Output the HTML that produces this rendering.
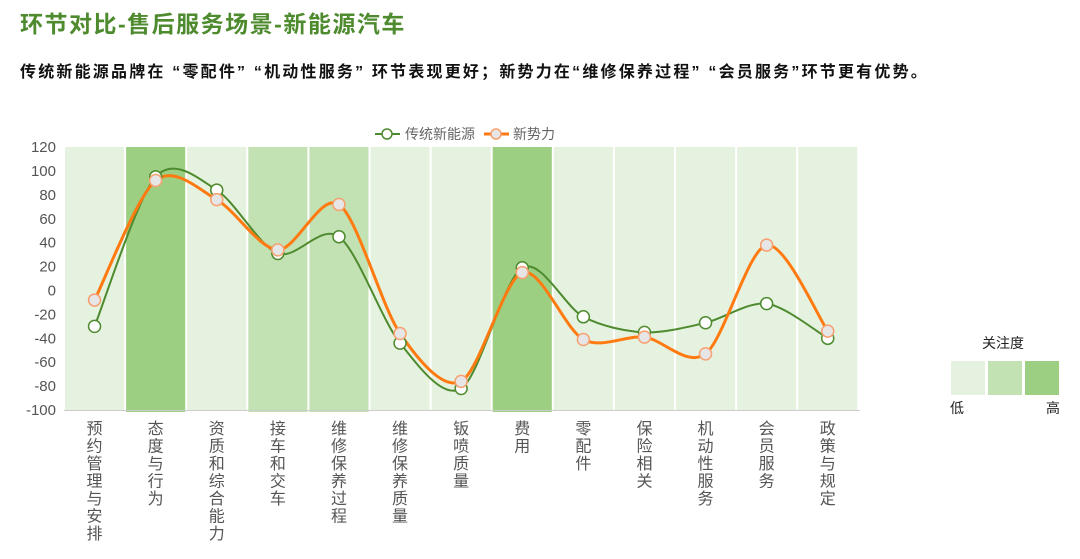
<!DOCTYPE html><html><head><meta charset="utf-8"><style>
body{margin:0;width:1080px;height:559px;background:#fff;font-family:"Liberation Sans","Noto Sans CJK SC",sans-serif;overflow:hidden;position:relative}
.t{position:absolute;left:20px;top:5px;font-size:23px;font-weight:bold;color:#4e8a2e;letter-spacing:1.5px}
.s{position:absolute;left:20px;top:58px;font-size:16px;font-weight:bold;color:#111;letter-spacing:2.2px;white-space:nowrap}
</style></head><body>
<div class="t">环节对比-售后服务场景-新能源汽车</div>
<div class="s">传统新能源品牌在 “零配件” “机动性服务” 环节表现更好；新势力在“维修保养过程” “会员服务”环节更有优势。</div>
<svg id="c" width="1080" height="559" style="position:absolute;left:0;top:0" font-family="Liberation Sans, Noto Sans CJK SC, sans-serif"></svg>
<script>
const svg=document.getElementById('c');let h='';
const X0=64,W=61.1,Y=v=>290.5-v*1.1955;
const shade=[0,2,0,1,1,0,0,2,0,0,0,0,0],cols=['#e6f2e0','#c3e2b3','#9ccf82'];
for(let i=0;i<13;i++)h+=`<rect x="${X0+i*W+1}" y="147" width="${W-2}" height="${shade[i]?265:263}" fill="${cols[shade[i]]}"/>`;
h+=`<line x1="64" y1="410.5" x2="860" y2="410.5" stroke="#ccc"/>`;
for(let v=-100;v<=120;v+=20)h+=`<text x="56" y="${Y(v)+5}" font-size="15" fill="#555" text-anchor="end">${v}</text>`;
const labels=['预约管理与安排','态度与行为','资质和综合能力','接车和交车','维修保养过程','维修保养质量','钣喷质量','费用','零配件','保险相关','机动性服务','会员服务','政策与规定'];
labels.forEach((l,i)=>{[...l].forEach((ch,j)=>{h+=`<text x="${X0+W/2+i*W}" y="${434+j*17.5}" font-size="16" fill="#555" text-anchor="middle">${ch}</text>`})});
const g=[-30,95,84,31,45,-44,-82,19,-22,-35,-27,-11,-40],o=[-8,92,76,34,72,-36,-76,15,-41,-39,-53,38,-34];
function path(d){const p=d.map((v,i)=>[X0+W/2+i*W,Y(v)]);let s=`M${p[0]}`;for(let i=0;i<p.length-1;i++){const a=p[i-1]||p[i],b=p[i],c=p[i+1],e=p[i+2]||c;const t=0.15;s+=` C${b[0]+(c[0]-a[0])*t},${b[1]+(c[1]-a[1])*t} ${c[0]-(e[0]-b[0])*t},${c[1]-(e[1]-b[1])*t} ${c[0]},${c[1]}`}return [s,p]}
let [gp,gpts]=path(g),[op,opts]=path(o);
h+=`<path d="${gp}" fill="none" stroke="#4e8a2e" stroke-width="2"/>`;
h+=`<path d="${op}" fill="none" stroke="#ff7a10" stroke-width="3"/>`;
gpts.forEach(p=>h+=`<circle cx="${p[0]}" cy="${p[1]}" r="6" fill="#fff" stroke="#4e8a2e" stroke-width="1.5"/>`);
opts.forEach(p=>h+=`<circle cx="${p[0]}" cy="${p[1]}" r="6" fill="#e6e6e6" stroke="#f7a070" stroke-width="1.5"/>`);
h+=`<line x1="375" y1="134" x2="400" y2="134" stroke="#4e8a2e" stroke-width="2"/><circle cx="387" cy="134" r="5" fill="#fff" stroke="#4e8a2e" stroke-width="1.5"/><text x="405" y="139" font-size="14" fill="#666">传统新能源</text>`;
h+=`<line x1="484" y1="134" x2="509" y2="134" stroke="#ff7a10" stroke-width="3"/><circle cx="496" cy="134" r="5" fill="#e6e6e6" stroke="#f7a070" stroke-width="1.5"/><text x="513" y="139" font-size="14" fill="#666">新势力</text>`;
h+=`<text x="1003" y="348" font-size="14" fill="#222" text-anchor="middle">关注度</text>`;
[0,1,2].forEach(i=>h+=`<rect x="${951+i*37}" y="361" width="34" height="34" fill="${cols[i]}"/>`);
h+=`<text x="957" y="413" font-size="14" fill="#222" text-anchor="middle">低</text><text x="1053" y="413" font-size="14" fill="#222" text-anchor="middle">高</text>`;
svg.innerHTML=h;
</script></body></html>
